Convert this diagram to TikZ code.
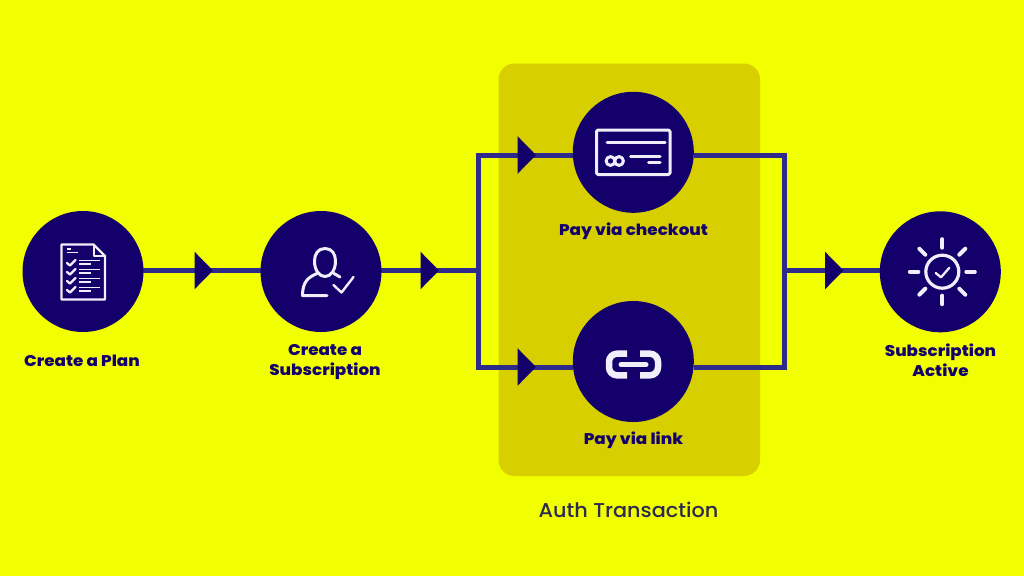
\documentclass[tikz,border=0pt]{standalone}
\usepackage{fontspec}
\setmainfont{Poppins}
\newfontfamily\heavyfont[FakeStretch=1.08]{Poppins ExtraBold}
\newfontfamily\captionfont[FakeStretch=1.04]{Poppins Medium}
\usetikzlibrary{arrows.meta,calc}
\definecolor{bgyellow}{HTML}{F2FF00}
\definecolor{panel}{HTML}{D7CF00}
\definecolor{navy}{HTML}{14006B}
\definecolor{wire}{HTML}{2E2A8C}
\definecolor{iconline}{HTML}{F1EEFB}
\definecolor{caption}{HTML}{2C2A50}
\tikzset{
  x=1pt,y=-1pt,
  stage/.style={circle,fill=navy,minimum size=121pt,inner sep=0pt},
  flow/.style={draw=wire,line width=5pt},
  flowtip/.style={flow,-{Triangle[length=18.5pt,width=36.5pt,color=navy]}},
  tag/.style={text=navy,font=\heavyfont\fontsize{15.5}{20}\selectfont,align=center},
  icon/.style={draw=iconline,line width=3pt,line cap=round,line join=round},
  iconthin/.style={draw=iconline,line width=1.7pt,line cap=butt},
}
\begin{document}
\begin{tikzpicture}
\useasboundingbox (0,0) rectangle (1024,576);
\fill[bgyellow] (0,0) rectangle (1024,576);
\fill[panel,rounded corners=16pt] (498.5,63.5) rectangle (760,476);

% junctions and the points the arrowheads end on
\coordinate (tipA) at (213,270.5);
\coordinate (tipB) at (439,270.5);
\coordinate (forkL) at (478.5,270.5);
\coordinate (tipC) at (536,155);
\coordinate (tipD) at (536,367);
\coordinate (forkLu) at (478.5,155);
\coordinate (forkLd) at (478.5,367);
\coordinate (forkRu) at (784.5,155);
\coordinate (forkRd) at (784.5,367);
\coordinate (forkR) at (784.5,270.5);
\coordinate (tipE) at (843.5,270.5);

% connectors, laid under the stages
\coordinate (planE) at (143,270.5);
\coordinate (subW) at (261,270.5);
\coordinate (subE) at (381,270.5);
\coordinate (activeW) at (880,270.5);
\coordinate (checkW) at (573,155);
\coordinate (checkE) at (694,155);
\coordinate (linkW) at (573,367);
\coordinate (linkE) at (694,367);
\draw[flow] (planE) -- (subW);
\draw[flowtip] (planE) -- (tipA);
\draw[flow] (subE) -- (forkL);
\draw[flowtip] (subE) -- (tipB);
\draw[flow,line join=miter] (linkW) -- (forkLd) -- (forkLu) -- (checkW);
\draw[flowtip] (forkLu) -- (tipC);
\draw[flowtip] (forkLd) -- (tipD);
\draw[flow,line join=miter] (checkE) -- (forkRu) -- (forkRd) -- (linkE);
\draw[flow] (forkR) -- (activeW);
\draw[flowtip] (forkR) -- (tipE);

% stages
\node[stage] (plan) at (83,271.5) {};
\node[stage] (sub) at (321,271.5) {};
\node[stage] (checkout) at (633.3,152.3) {};
\node[stage] (link) at (633.3,361.5) {};
\node[stage] (active) at (940.3,271.8) {};

% document icon
\draw[icon,line width=2.3pt] (61.5,244.5) -- (93.5,244.5) -- (105,256) -- (105,299.5) -- (61.5,299.5) -- cycle;
\draw[icon,line width=2pt] (93.5,244.5) -- (93.5,256) -- (105,256);
\foreach \yy in {263,272,281,290} {
  \draw[icon,line width=2.3pt] (67,\yy) -- (70,\yy+2.5) -- (75.5,\yy-3);
  \draw[iconthin] (79,\yy-2.5) -- (100,\yy-2.5);
  \draw[iconthin] (79,\yy+1) -- (91,\yy+1);
}
\draw[iconthin] (66.5,249) -- (71,249);
\draw[iconthin] (66.5,252.5) -- (78,252.5);

% person icon
\draw[icon] (325,248.5) .. controls (318,248.5) and (314.5,254) .. (314.5,261)
  .. controls (314.5,270) and (319,276.5) .. (325,276.5)
  .. controls (331,276.5) and (335.5,270) .. (335.5,261)
  .. controls (335.5,254) and (332,248.5) .. (325,248.5) -- cycle;
\draw[icon] (317,273.5) .. controls (309,277) and (302.5,281) .. (302.5,295.5) -- (327,295.5);
\draw[icon] (334,273.5) -- (340,277);
\draw[icon,line width=2.4pt] (333.5,285) -- (341.5,292.5) -- (353.5,277);

% card icon
\draw[icon,rounded corners=1.5pt] (596.5,130) rectangle (670,174.5);
\draw[icon] (607,142) -- (665,142);
\draw[icon] (630.5,156) -- (660,156);
\draw[icon] (648.5,162.5) -- (660,162.5);
\draw[icon] (610.5,161) circle (4.4pt);
\draw[icon] (619,161) circle (4.4pt);

% link icon
\draw[icon,line width=6.5pt,line cap=butt,rounded corners=8pt] (627,353.7) -- (609,353.7) -- (609,375.3) -- (627,375.3);
\draw[icon,line width=6.5pt,line cap=butt,rounded corners=8pt] (640,353.7) -- (658,353.7) -- (658,375.3) -- (640,375.3);
\draw[icon,line width=5pt] (621,364.6) -- (646,364.6);

% sun icon
\coordinate (suncentre) at (942.3,271.7);
\draw[icon,line width=3.2pt] (suncentre) circle (16.5pt);
\draw[icon,line width=2.3pt] (935.7,273) -- (941,277.3) -- (949.3,267.8);
\foreach \ang in {0,45,...,315} {
  \draw[icon,line width=4pt] ($(suncentre)+(\ang:24pt)$) -- ($(suncentre)+(\ang:32.5pt)$);
}

% labels
\node[tag] (planlabel) at (82,360.5) {Create a Plan};
\node[tag] (sublabel) at (325,362) {Create a\\Subscription};
\node[tag] (checkoutlabel) at (633.5,231) {Pay via checkout};
\node[tag] (linklabel) at (633.5,440) {Pay via link};
\node[tag] (activelabel) at (940.5,360.5) {Subscription\\Active};
\node[text=caption,font=\captionfont\fontsize{20}{24}\selectfont] (authlabel) at (628.5,509.5) {Auth Transaction};
\end{tikzpicture}
\end{document}
